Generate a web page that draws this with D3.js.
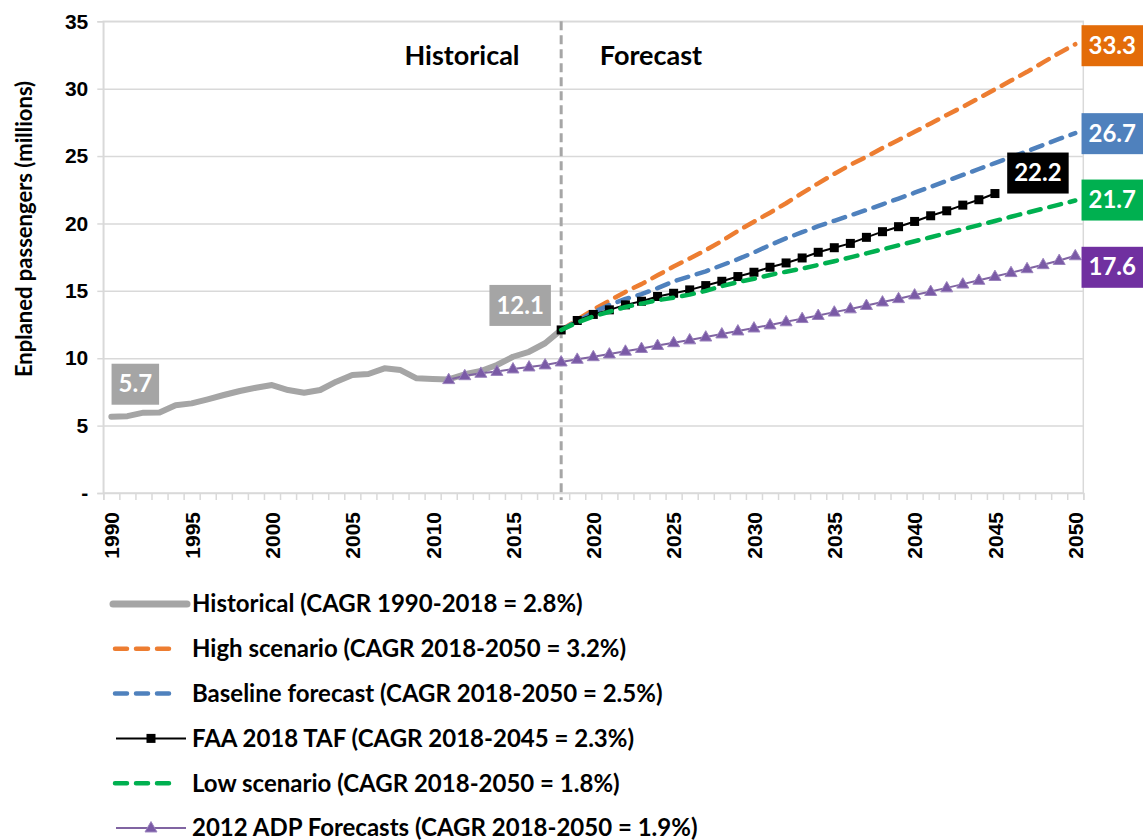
<!DOCTYPE html>
<html>
<head>
<meta charset="utf-8">
<script src="https://cdn.jsdelivr.net/npm/d3@7"></script>
<style>
body { margin: 0; background: #fff; }
svg { display: block; font-family: Lato, "Open Sans", sans-serif; font-weight: bold; }
.grid line { stroke: #d9d9d9; stroke-width: 1.5; }
.grid path { display: none; }
.axis path, .axis line { stroke: #d9d9d9; stroke-width: 1.5; }
.axis text { fill: #000; font-size: 21px; font-weight: bold; }
</style>
</head>
<body>
<div id="chart"></div>
<script>
const width = 1143
const height = 840
const plot = { left: 103.3, right: 1083.3, top: 21.3, bottom: 493 }

// data
const histYears = d3.range(1990, 2019)
const histValues = [5.66, 5.70, 5.96, 5.97, 6.51, 6.65, 6.95, 7.27, 7.57, 7.81,
    8.01, 7.64, 7.44, 7.64, 8.26, 8.75, 8.83, 9.25, 9.12, 8.51,
    8.46, 8.43, 8.81, 9.05, 9.50, 10.11, 10.48, 11.11, 12.1]

const fcYears = d3.range(2018, 2051)
const highValues = [12.10, 12.85, 13.60, 14.27, 14.92, 15.50, 16.15, 16.80, 17.40, 18.02,
    18.70, 19.45, 20.13, 20.80, 21.50, 22.25, 22.98, 23.68, 24.35, 24.95,
    25.60, 26.20, 26.80, 27.42, 28.05, 28.65, 29.30, 29.95, 30.60, 31.25,
    31.95, 32.65, 33.30]
const baseValues = [12.10, 12.75, 13.40, 13.95, 14.40, 14.75, 15.20, 15.70, 16.08, 16.45,
    16.90, 17.35, 17.85, 18.40, 18.90, 19.35, 19.80, 20.20, 20.60, 21.00,
    21.42, 21.85, 22.28, 22.72, 23.16, 23.60, 24.04, 24.48, 24.92, 25.36,
    25.82, 26.27, 26.70]
const lowValues = [12.10, 12.65, 13.10, 13.45, 13.80, 14.05, 14.30, 14.50, 14.72, 15.00,
    15.35, 15.65, 15.90, 16.18, 16.42, 16.65, 16.92, 17.20, 17.48, 17.78,
    18.08, 18.38, 18.68, 18.98, 19.28, 19.58, 19.88, 20.18, 20.50, 20.80,
    21.10, 21.40, 21.70]

const faaYears = d3.range(2018, 2046)
const faaValues = [12.10, 12.80, 13.25, 13.59, 13.96, 14.23, 14.58, 14.82, 15.07, 15.39,
    15.71, 16.06, 16.38, 16.75, 17.07, 17.44, 17.86, 18.20, 18.52, 18.97,
    19.39, 19.76, 20.15, 20.57, 20.94, 21.36, 21.76, 22.22]

const adpYears = d3.range(2011, 2051)
const adpValues = [8.41, 8.70, 8.88, 9.02, 9.20, 9.35, 9.50, 9.72, 9.92, 10.11,
    10.31, 10.52, 10.72, 10.94, 11.15, 11.36, 11.57, 11.80, 12.02, 12.24,
    12.47, 12.70, 12.94, 13.17, 13.42, 13.66, 13.91, 14.17, 14.42, 14.69,
    14.95, 15.22, 15.50, 15.78, 16.06, 16.35, 16.64, 16.94, 17.25, 17.6]

const yTicks = [0, 5, 10, 15, 20, 25, 30, 35]
const xLabels = d3.range(1990, 2051, 5)
const legendLabels = [
    "Historical (CAGR 1990-2018 = 2.8%)",
    "High scenario (CAGR 2018-2050 = 3.2%)",
    "Baseline forecast (CAGR 2018-2050 = 2.5%)",
    "FAA 2018 TAF (CAGR 2018-2045 = 2.3%)",
    "Low scenario (CAGR 2018-2050 = 1.8%)",
    "2012 ADP Forecasts (CAGR 2018-2050 = 1.9%)"
]

const dashPattern = "12,9"
const series = [
    { years: histYears, values: histValues, color: "#a5a5a5", w: 6 },
    { years: fcYears, values: highValues, color: "#ed7d31", w: 4.5, dash: dashPattern },
    { years: fcYears, values: baseValues, color: "#4f81bd", w: 4.5, dash: dashPattern },
    { years: faaYears, values: faaValues, color: "#000", w: 2, marker: "square" },
    { years: fcYears, values: lowValues, color: "#00b050", w: 4.5, dash: dashPattern },
    { years: adpYears, values: adpValues, color: "#8064a2", w: 2, marker: "triangle" }
]

const x = d3.scaleLinear().domain([1989.5, 2050.5]).range([plot.left, plot.right])
const y = d3.scaleLinear().domain([0, 35]).range([plot.bottom, plot.top])

const svg = d3.select("#chart").append("svg")
    .attr("width", width)
    .attr("height", height)

svg.append("rect").attr("width", width).attr("height", height).attr("fill", "#fff")

// gridlines
svg.append("g")
    .attr("class", "grid")
    .attr("transform", "translate(" + plot.left + ",0)")
    .call(d3.axisLeft(y).tickValues(yTicks.slice(1)).tickSize(-(plot.right - plot.left)).tickFormat(""))

// plot border
svg.append("rect")
    .attr("x", plot.left).attr("y", plot.top)
    .attr("width", plot.right - plot.left).attr("height", plot.bottom - plot.top)
    .attr("fill", "none").attr("stroke", "#d9d9d9").attr("stroke-width", 1.5)

// y axis
svg.append("g")
    .attr("class", "axis")
    .attr("transform", "translate(" + plot.left + ",0)")
    .call(d3.axisLeft(y).tickValues(yTicks).tickSize(6).tickPadding(9)
        .tickFormat(d => d === 0 ? "-" : d))

// x axis tick marks at year boundaries
svg.append("g")
    .attr("class", "axis")
    .attr("transform", "translate(0," + plot.bottom + ")")
    .call(d3.axisBottom(x).tickValues(d3.range(1989.5, 2051, 1)).tickSize(7).tickFormat(""))

// x labels (rotated)
svg.append("g")
    .attr("class", "axis")
    .attr("transform", "translate(0," + plot.bottom + ")")
    .call(d3.axisBottom(x).tickValues(xLabels).tickSize(0).tickFormat(d3.format("d")))
    .call(g => g.select(".domain").remove())
    .selectAll("text")
    .attr("transform", "rotate(-90)")
    .attr("text-anchor", "end")
    .attr("x", -19)
    .attr("y", 0)
    .attr("dy", "0.35em")

// y axis title
svg.append("text")
    .attr("transform", "translate(24,229) rotate(-90)")
    .attr("text-anchor", "middle")
    .attr("dy", "0.35em")
    .attr("font-size", 22)
    .text("Enplaned passengers (millions)")

// historical / forecast divider
svg.append("line")
    .attr("x1", x(2018)).attr("x2", x(2018))
    .attr("y1", plot.top).attr("y2", plot.bottom + 7)
    .attr("stroke", "#a6a6a6").attr("stroke-width", 3)
    .attr("stroke-dasharray", "9,5")

svg.append("text").attr("x", 462).attr("y", 65).attr("text-anchor", "middle")
    .attr("font-size", 27).text("Historical")
svg.append("text").attr("x", 651).attr("y", 65).attr("text-anchor", "middle")
    .attr("font-size", 27).text("Forecast")

// series
const line = d3.line().x(d => x(d[0])).y(d => y(d[1]))

function drawMarker(g, type, cx, cy) {
    if (type === "square") {
        g.append("rect")
            .attr("x", cx - 4.5).attr("y", cy - 4.5)
            .attr("width", 9).attr("height", 9)
            .attr("fill", "#000")
    } else if (type === "triangle") {
        g.append("path")
            .attr("d", d3.symbol(d3.symbolTriangle, 62)())
            .attr("transform", "translate(" + cx + "," + (cy + 0.5) + ")")
            .attr("fill", "#7a5aa6")
            .attr("stroke", "#9b83bd").attr("stroke-width", 1)
    }
}

series.forEach(s => {
    const pts = s.years.map((yr, i) => [yr, s.values[i]])
    const g = svg.append("g")
    g.append("path")
        .attr("d", line(pts))
        .attr("fill", "none")
        .attr("stroke", s.color)
        .attr("stroke-width", s.w)
        .attr("stroke-linejoin", "round")
        .attr("stroke-linecap", "round")
        .attr("stroke-dasharray", s.dash || null)
    if (s.marker) {
        pts.forEach(p => drawMarker(g, s.marker, x(p[0]), y(p[1])))
    }
})

// value labels
const labels = [
    { year: 1990, value: histValues[0], text: "5.7", fill: "#a5a5a5", dx: 24, dy: -33 },
    { year: 2018, value: histValues[28], text: "12.1", fill: "#a5a5a5", dx: -41, dy: -25 },
    { year: 2050, value: highValues[32], text: "33.3", fill: "#e36c09", dx: 37, dy: 1 },
    { year: 2050, value: baseValues[32], text: "26.7", fill: "#4f81bd", dx: 37, dy: 0 },
    { year: 2045, value: faaValues[27], text: "22.2", fill: "#000000", dx: 43, dy: -21 },
    { year: 2050, value: lowValues[32], text: "21.7", fill: "#00b050", dx: 37, dy: -1 },
    { year: 2050, value: adpValues[39], text: "17.6", fill: "#7030a0", dx: 37, dy: 11 }
]

labels.forEach(l => {
    const cx = x(l.year) + l.dx
    const cy = y(l.value) + l.dy
    const g = svg.append("g")
    const t = g.append("text")
        .attr("x", cx).attr("y", cy).attr("dy", "0.36em")
        .attr("text-anchor", "middle")
        .attr("font-size", 24)
        .attr("fill", "#fff")
        .text(l.text)
    const w = t.node().getComputedTextLength() + 14
    g.insert("rect", "text")
        .attr("x", cx - w / 2).attr("y", cy - 20)
        .attr("width", w).attr("height", 41)
        .attr("fill", l.fill)
})

// legend
const legend = svg.append("g")
legendLabels.forEach((name, i) => {
    const s = series[i]
    const ly = 604 + i * 44.8
    const row = legend.append("g")
    if (s.marker) {
        row.append("line").attr("x1", 116).attr("x2", 186).attr("y1", ly).attr("y2", ly)
            .attr("stroke", s.color).attr("stroke-width", s.w)
        drawMarker(row, s.marker, 151, ly)
    } else {
        row.append("line")
            .attr("x1", s.dash ? 115 : 113).attr("x2", s.dash ? 178 : 187)
            .attr("y1", ly).attr("y2", ly)
            .attr("stroke", s.color).attr("stroke-width", s.dash ? s.w : 7)
            .attr("stroke-linecap", "round")
            .attr("stroke-dasharray", s.dash || null)
    }
    row.append("text")
        .attr("x", 192).attr("y", ly).attr("dy", "0.35em")
        .attr("font-size", 24)
        .text(name)
})
</script>
</body>
</html>
